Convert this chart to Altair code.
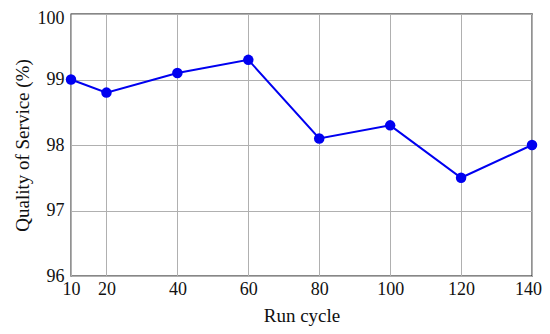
import altair as alt
import pandas as pd

run_cycle = [10, 20, 40, 60, 80, 100, 120, 140]
qos = [99.0, 98.8, 99.1, 99.3, 98.1, 98.3, 97.5, 98.0]
x_ticks = [10, 20, 40, 60, 80, 100, 120, 140]
y_ticks = [96, 97, 98, 99, 100]

df = pd.DataFrame({"run": run_cycle, "qos": qos})

FONT = "Liberation Serif"

x = alt.X("run:Q", title="Run cycle",
          scale=alt.Scale(domain=[10, 140], nice=False, zero=False),
          axis=alt.Axis(values=x_ticks, grid=True, ticks=False, domain=False,
                        labelPadding=4, titlePadding=8, labelFlush=False,
                        labelOffset={"condition": {"test": "datum.value == 140", "value": -4}, "value": 0}))
y = alt.Y("qos:Q", title="Quality of Service (%)",
          scale=alt.Scale(domain=[96, 100], nice=False, zero=False),
          axis=alt.Axis(values=y_ticks, grid=True, ticks=False, domain=False,
                        labelPadding=7, titlePadding=5, labelFlush=False,
                        labelOffset={"condition": {"test": "datum.value == 100", "value": 4}, "value": 0}))

line = alt.Chart(df).mark_line(color="#0000f0", strokeWidth=2).encode(x=x, y=y)
pts = alt.Chart(df).mark_point(filled=True, color="#0000f0", size=110, opacity=1).encode(x=x, y=y)

chart = alt.layer(line, pts).properties(
    width=461, height=262,
    autosize=alt.AutoSizeParams(type="none"),
    padding={"left": 63, "top": 6, "right": 10, "bottom": 50},
).configure_view(stroke="#111111", strokeWidth=1.3).configure_axis(
    labelFont=FONT, titleFont=FONT, labelFontSize=18, titleFontSize=19,
    labelColor="#111111", titleColor="#111111", titleFontWeight="normal",
    gridColor="#b0b0b0", gridWidth=1,
)

chart.save("out.html", embed_options={"renderer": "svg", "actions": False})
